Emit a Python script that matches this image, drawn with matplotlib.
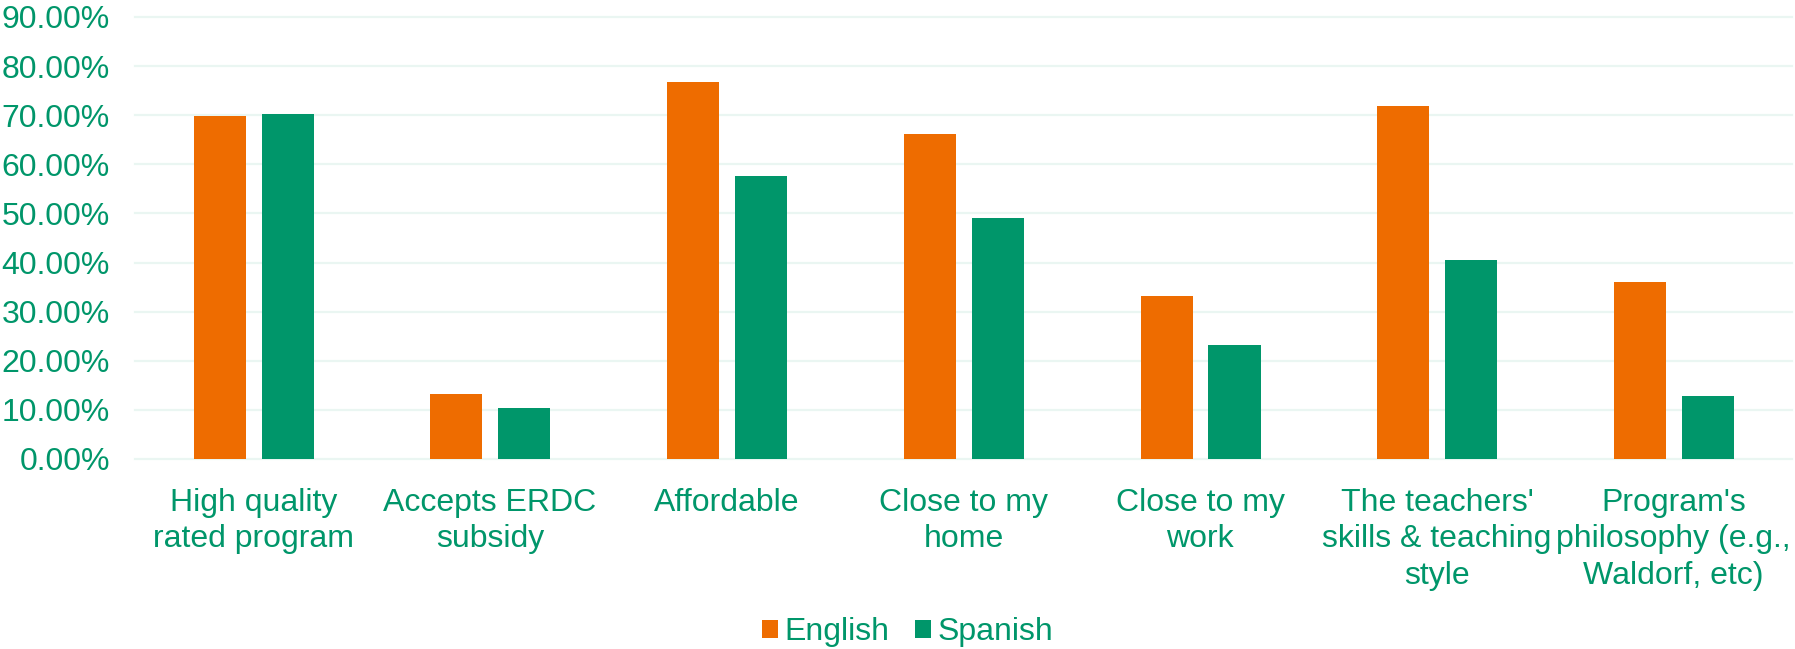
import matplotlib
matplotlib.use('Agg')
import matplotlib.pyplot as plt
import numpy as np

# data
categories = ["High quality\nrated program", "Accepts ERDC\nsubsidy", "Affordable",
              "Close to my\nhome", "Close to my\nwork",
              "The teachers'\nskills & teaching\nstyle",
              "Program's\nphilosophy (e.g.,\nWaldorf, etc)"]
english = [69.8, 13.2, 76.7, 66.1, 33.1, 71.8, 36.0]
spanish = [70.2, 10.3, 57.6, 49.0, 23.3, 40.5, 12.8]
yticks = [0, 10, 20, 30, 40, 50, 60, 70, 80, 90]

orange = '#EE6C00'
green = '#00966A'
textc = '#00966A'
fs = 23

plt.rcParams['font.family'] = ['Liberation Sans', 'DejaVu Sans']

fig = plt.figure(figsize=(17.95, 6.49), dpi=100)
ax = fig.add_axes([135/1795, 1 - 459/649, (1792 - 135)/1795, (459 - 17)/649])

x = np.arange(len(categories))
w = 0.22
ax.bar(x - 0.142, english, w, color=orange, label='English', zorder=2)
ax.bar(x + 0.145, spanish, w, color=green, label='Spanish', zorder=2)

ax.set_xlim(-0.5, len(categories) - 0.5)
ax.set_ylim(0, 90)
ax.set_yticks(yticks)
ax.set_yticklabels(['%.2f%%' % v for v in yticks])
ax.set_xticks(x)
ax.set_xticklabels(categories, linespacing=1.27)

ax.tick_params(axis='y', length=0, pad=18, labelsize=fs, labelcolor=textc)
ax.tick_params(axis='x', length=0, pad=21, labelsize=fs, labelcolor=textc)

ax.yaxis.grid(True, color='#EAF6F2', linewidth=1.6, zorder=0)
ax.set_axisbelow(True)
for gl in ax.get_ygridlines():
    gl.set_clip_on(False)
for s in ax.spines.values():
    s.set_visible(False)

leg = fig.legend(loc='center', bbox_to_anchor=(908/1795, 1 - 632/649), ncol=2,
                 frameon=False, fontsize=fs, handlelength=0.5, handleheight=0.5,
                 handletextpad=0.2, columnspacing=0.8, borderpad=0)
for t in leg.get_texts():
    t.set_color(textc)

fig.savefig('out.png', dpi=100)
